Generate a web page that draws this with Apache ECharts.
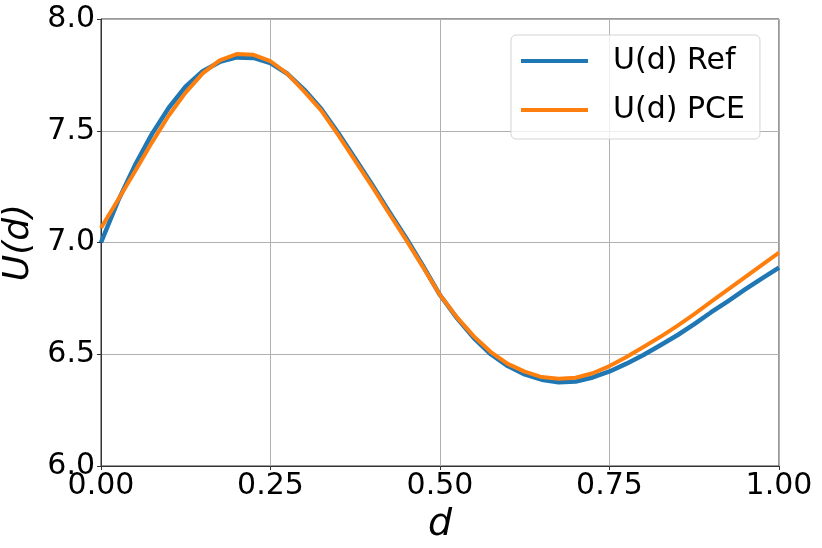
<!DOCTYPE html>
<html>
<head>
<meta charset="utf-8">
<script src="https://cdn.jsdelivr.net/npm/echarts@6/dist/echarts.min.js"></script>
<style>
html,body{margin:0;padding:0;background:#fff;}
#chart{width:822px;height:548px;}
</style>
</head>
<body>
<div id="chart"></div>
<script>
const dValues = [0, 0.025, 0.05, 0.075, 0.1, 0.125, 0.15, 0.175, 0.2, 0.225, 0.25, 0.275, 0.3, 0.325, 0.35, 0.375, 0.4, 0.425, 0.45, 0.475, 0.5,
  0.525, 0.55, 0.575, 0.6, 0.625, 0.65, 0.675, 0.7, 0.725, 0.75, 0.775, 0.8, 0.825, 0.85, 0.875, 0.9, 0.925, 0.95, 0.975, 1.0];
const uRef = [7.00, 7.185, 7.345, 7.485, 7.603, 7.698, 7.766, 7.808, 7.828, 7.826, 7.803, 7.755, 7.683, 7.597, 7.49, 7.375, 7.258, 7.138, 7.02, 6.895, 6.765,
  6.662, 6.572, 6.50, 6.447, 6.41, 6.386, 6.375, 6.378, 6.396, 6.423, 6.458, 6.497, 6.54, 6.585, 6.635, 6.688, 6.738, 6.79, 6.84, 6.888];
const uPCE = [7.065, 7.19, 7.318, 7.447, 7.568, 7.672, 7.757, 7.815, 7.843, 7.840, 7.811, 7.755, 7.675, 7.59, 7.48, 7.365, 7.25, 7.13, 7.012, 6.89, 6.765,
  6.665, 6.58, 6.51, 6.457, 6.422, 6.398, 6.39, 6.395, 6.415, 6.447, 6.488, 6.532, 6.578, 6.627, 6.68, 6.735, 6.79, 6.845, 6.9, 6.955];
const seriesNames = ['U(d) Ref', 'U(d) PCE'];
const xTicks = [0, 0.25, 0.5, 0.75, 1.0];
const yTicks = [6.0, 6.5, 7.0, 7.5, 8.0];

const FONT = 'DejaVu Sans';
const chart = echarts.init(document.getElementById('chart'));
const pairs = arr => dValues.map((d, i) => [d, arr[i]]);

chart.setOption({
  animation: false,
  backgroundColor: '#ffffff',
  grid: {
    left: 101, right: 43, top: 19, bottom: 82,
    containLabel: false, outerBoundsMode: 'none',
    show: true, borderColor: '#333333', borderWidth: 1, backgroundColor: 'transparent'
  },
  legend: {
    left: 511, top: 35,
    orient: 'vertical',
    data: seriesNames,
    icon: 'rect',
    itemWidth: 67, itemHeight: 4,
    itemGap: 19,
    padding: [11, 15, 14, 10],
    backgroundColor: 'rgba(255,255,255,0.8)',
    borderColor: '#d4d4d4', borderWidth: 1, borderRadius: 5,
    textStyle: { fontFamily: FONT, fontSize: 30, color: '#000', padding: [0, 0, 0, 20], lineHeight: 30 }
  },
  xAxis: {
    type: 'value', min: xTicks[0], max: xTicks[xTicks.length - 1], interval: 0.25,
    name: 'd', nameLocation: 'middle', nameGap: 37,
    nameTextStyle: { fontFamily: FONT, fontSize: 38, fontStyle: 'italic', color: '#000' },
    axisLine: { show: true, lineStyle: { color: '#333', width: 1 } },
    axisTick: { show: true, length: 4, lineStyle: { color: '#333' } },
    axisLabel: { fontFamily: FONT, fontSize: 30, color: '#000', margin: 5, hideOverlap: false,
      showMinLabel: true, showMaxLabel: true, formatter: v => v.toFixed(2) },
    splitLine: { show: true, lineStyle: { color: '#b0b0b0', width: 1 } }
  },
  yAxis: {
    type: 'value', min: yTicks[0], max: yTicks[yTicks.length - 1], interval: 0.5,
    name: 'U(d)', nameLocation: 'middle', nameGap: 58, nameRotate: 90,
    nameTextStyle: { fontFamily: FONT, fontSize: 36, fontStyle: 'italic', color: '#000' },
    axisLine: { show: true, lineStyle: { color: '#333', width: 1 } },
    axisTick: { show: true, length: 4, lineStyle: { color: '#333' } },
    axisLabel: { fontFamily: FONT, fontSize: 30, color: '#000', margin: 6, hideOverlap: false,
      showMinLabel: true, showMaxLabel: true, formatter: v => v.toFixed(1) },
    splitLine: { show: true, lineStyle: { color: '#b0b0b0', width: 1 } }
  },
  series: [
    { name: seriesNames[0], type: 'line', data: pairs(uRef), smooth: false, showSymbol: false,
      lineStyle: { color: '#1f77b4', width: 4.5, join: 'round' }, itemStyle: { color: '#1f77b4' }, z: 2 },
    { name: seriesNames[1], type: 'line', data: pairs(uPCE), smooth: false, showSymbol: false,
      lineStyle: { color: '#ff7f0e', width: 4, join: 'round' }, itemStyle: { color: '#ff7f0e' }, z: 3 }
  ]
});
</script>
</body>
</html>
